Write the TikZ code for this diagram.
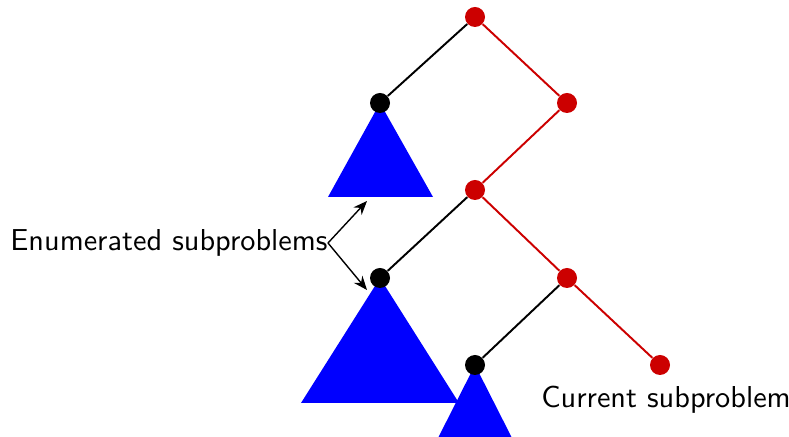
\documentclass[tikz,border=0pt]{standalone}
\usepackage{xcolor}
\usepackage{tikz}
\usetikzlibrary{positioning, arrows.meta}
\definecolor{curRed}{RGB}{204, 0, 0}
\definecolor{subBlue}{RGB}{0, 0, 255}

\begin{document}
\begin{tikzpicture}[
        x=0.36pt, y=-0.36pt,
        font=\fontsize{10.9}{13}\sffamily,
        rdot/.style={circle, fill=curRed, inner sep=0pt, minimum size=7.2pt},
        bdot/.style={circle, fill=black, inner sep=0pt, minimum size=7.2pt},
        redge/.style={curRed, line width=0.7pt},
        bedge/.style={black, line width=0.7pt},
        subtree/.style={fill=subBlue, draw=none},
        arr/.style={-{Stealth[length=5pt, width=4pt]}, line width=0.5pt}
    ]
    \useasboundingbox (0,0) rectangle (789,437);
    % subtrees
    \fill[subtree] (380,103) -- (433,197) -- (328,197) -- cycle;
    \fill[subtree] (380,278) -- (459,403) -- (301,403) -- cycle;
    \fill[subtree] (475,365) -- (513,440) -- (437,440) -- cycle;
    % tree
    \node[rdot] (root) at (475,17) {};
    \node[bdot] (b1) at (380,103) {};
    \node[rdot] (r1) at (567,103) {};
    \node[rdot] (r2) at (475,190) {};
    \node[bdot] (b2) at (380,278) {};
    \node[rdot] (r3) at (567,278) {};
    \node[bdot] (b3) at (475,365) {};
    \node[rdot] (cur) at (660,365) {};
    \draw[bedge] (root) -- (b1);
    \draw[redge] (root) -- (r1);
    \draw[redge] (r1) -- (r2);
    \draw[bedge] (r2) -- (b2);
    \draw[redge] (r2) -- (r3);
    \draw[bedge] (r3) -- (b3);
    \draw[redge] (r3) -- (cur);
    % labels
    \node[anchor=east, inner sep=0pt] (enum) at (328,243) {Enumerated subproblems\hspace{5.5pt}};
    \coordinate (t1) at (367,201);
    \coordinate (t2) at (367,290);
    \draw[arr] (enum.east) -- (t1);
    \draw[arr] (enum.east) -- (t2);
    \node (curlbl) at (666,400) {Current subproblem};
\end{tikzpicture}
\end{document}
